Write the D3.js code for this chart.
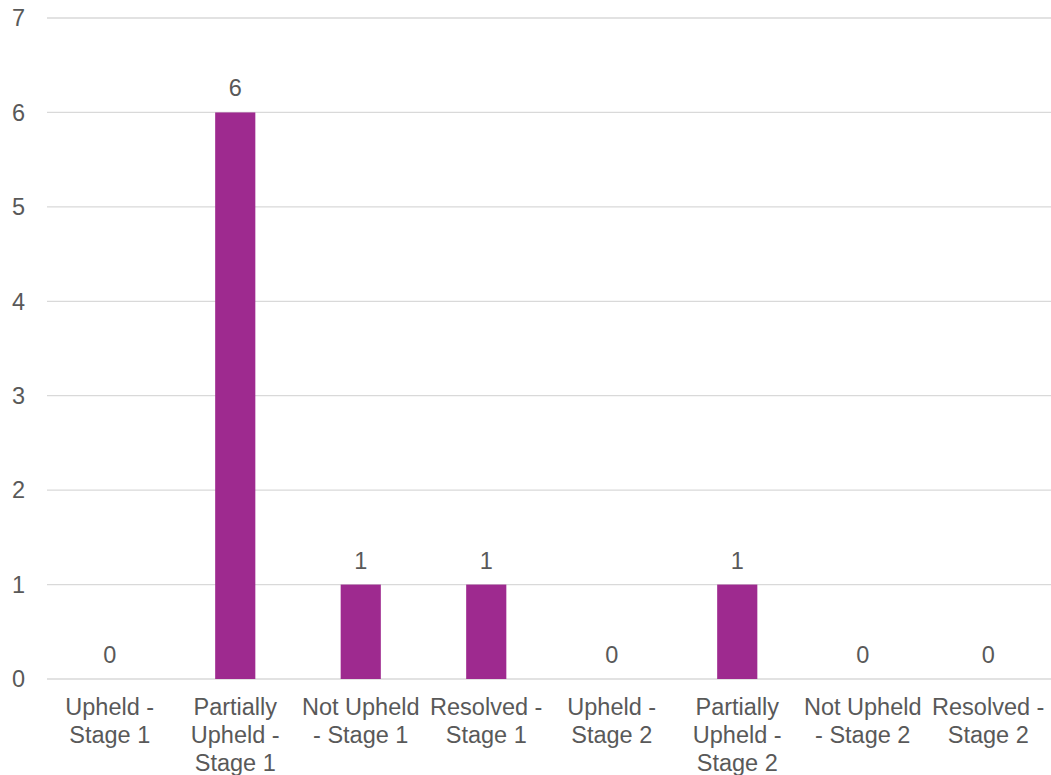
<!DOCTYPE html>
<html>
<head>
<meta charset="utf-8">
<script src="https://cdn.jsdelivr.net/npm/d3@7"></script>
<style>
    body { margin: 0; background: #fff; }
</style>
</head>
<body>
<div id="chart"></div>
<script>
// chart data
const categories = [
    ["Upheld -", "Stage 1"],
    ["Partially", "Upheld -", "Stage 1"],
    ["Not Upheld", "- Stage 1"],
    ["Resolved -", "Stage 1"],
    ["Upheld -", "Stage 2"],
    ["Partially", "Upheld -", "Stage 2"],
    ["Not Upheld", "- Stage 2"],
    ["Resolved -", "Stage 2"]
];
const values = [0, 6, 1, 1, 0, 1, 0, 0];
const yTicks = [0, 1, 2, 3, 4, 5, 6, 7];

const W = 1051, H = 775;
const margin = {top: 18, right: 0, bottom: 96, left: 47};
const width = W - margin.left - margin.right;
const height = H - margin.top - margin.bottom;
const fontSize = "23.5px";
const textColor = "#595959";

const svg = d3.select("#chart").append("svg")
    .attr("width", W)
    .attr("height", H)
    .attr("font-family", "'Liberation Sans', Arial, Helvetica, sans-serif")
    .append("g")
    .attr("transform", `translate(${margin.left},${margin.top})`);

const xScale = d3.scaleBand()
    .domain(d3.range(categories.length))
    .range([0, width])
    .paddingInner(0.68)
    .paddingOuter(0.34);

const yScale = d3.scaleLinear().domain([0, 7]).range([height, 0]);

// gridlines
svg.append("g")
    .selectAll("line")
    .data(yTicks)
    .join("line")
    .attr("x1", 0)
    .attr("x2", width)
    .attr("y1", d => yScale(d))
    .attr("y2", d => yScale(d))
    .attr("stroke", "#d9d9d9")
    .attr("stroke-width", 1.3);

// y axis labels
svg.append("g")
    .selectAll("text")
    .data(yTicks)
    .join("text")
    .attr("x", -22)
    .attr("y", d => yScale(d))
    .attr("dy", "0.35em")
    .attr("text-anchor", "end")
    .attr("font-size", fontSize)
    .attr("fill", textColor)
    .text(d => d);

// bars
svg.append("g")
    .selectAll("rect")
    .data(values)
    .join("rect")
    .attr("x", (d, i) => xScale(i))
    .attr("y", d => yScale(d))
    .attr("width", xScale.bandwidth())
    .attr("height", d => height - yScale(d))
    .attr("fill", "#9e2a8f");

// value labels
svg.append("g")
    .selectAll("text")
    .data(values)
    .join("text")
    .attr("x", (d, i) => xScale(i) + xScale.bandwidth() / 2)
    .attr("y", d => yScale(d) - 16)
    .attr("text-anchor", "middle")
    .attr("font-size", fontSize)
    .attr("fill", textColor)
    .text(d => d);

// category labels
const catLabels = svg.append("g")
    .selectAll("text")
    .data(categories)
    .join("text")
    .attr("x", (d, i) => xScale(i) + xScale.bandwidth() / 2)
    .attr("y", height + 36)
    .attr("text-anchor", "middle")
    .attr("font-size", fontSize)
    .attr("fill", textColor);

catLabels.selectAll("tspan")
    .data(d => d)
    .join("tspan")
    .attr("x", function() { return d3.select(this.parentNode).attr("x"); })
    .attr("dy", (d, i) => i === 0 ? 0 : 28)
    .text(d => d);
</script>
</body>
</html>
